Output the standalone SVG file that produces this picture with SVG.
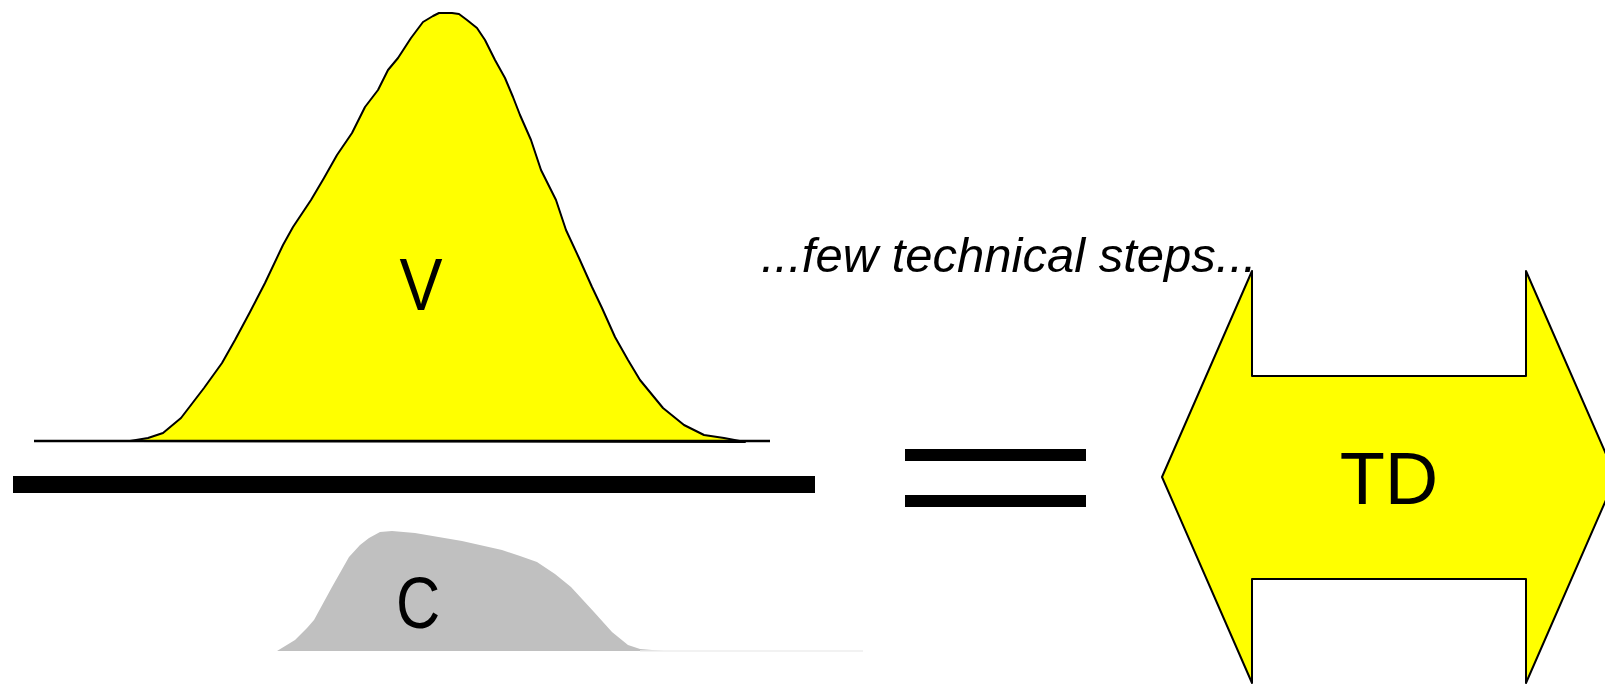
<svg xmlns="http://www.w3.org/2000/svg" width="1605" height="685" viewBox="0 0 1605 685">
<style>
.lbl{font-family:"Liberation Sans",Arial,sans-serif;fill:#000}
.shape{stroke:#000;stroke-width:2;stroke-linejoin:round}
</style>
<rect width="1605" height="685" fill="#fff"/>
<g id="V-distribution">
<path class="shape" fill="#ffff00" d="M130,441 L148,438 L163,433 L181,418 L204,388 L222,363 L235,340 L250,312 L265,283 L283,245 L293,227 L311,200 L324,178 L337,155 L352,133 L365,107 L378,90 L388,70 L398,58 L411,38 L423,22 L433,16 L439,13 L452,13 L459,14 L467,20 L477,28 L485,40 L495,60 L505,78 L513,97 L520,115 L531,140 L541,170 L556,200 L566,230 L579,258 L592,287 L602,308 L615,337 L628,360 L640,380 L663,408 L684,425 L704,435 L724,438 L745,442 Z"/>
<line x1="34" y1="441" x2="770" y2="441" stroke="#000" stroke-width="2.5"/>
<text class="lbl" transform="translate(421,310) scale(0.86,1)" font-size="75" text-anchor="middle">V</text>
</g>
<g id="fraction-bar">
<rect x="13" y="476" width="802" height="17" fill="#000"/>
</g>
<g id="C-distribution">
<path fill="#c0c0c0" d="M277,651 L295,640 L307,628 L314,620 L332,587 L349,557 L360,545 L369,538 L380,532 L392,531 L415,533 L462,541 L502,550 L520,556 L537,562 L555,574 L571,587 L594,612 L612,632 L628,645 L640,649 L664,651 Z"/>
<line x1="640" y1="651" x2="863" y2="651" stroke="#eeeeee" stroke-width="1.5"/>
<text class="lbl" transform="translate(418,628) scale(0.85,1)" font-size="72" text-anchor="middle">C</text>
</g>
<g id="equals">
<rect x="905" y="449" width="181" height="12" fill="#000"/>
<rect x="905" y="495" width="181" height="12" fill="#000"/>
</g>
<g id="TD-arrow">
<polygon class="shape" fill="#ffff00" points="1162,477 1252,271 1252,376 1526,376 1526,271 1616,477 1526,683 1526,579 1252,579 1252,683"/>
<text class="lbl" x="1389" y="504" font-size="74" text-anchor="middle">TD</text>
</g>
<g id="caption">
<text class="lbl" x="761" y="272" font-size="49" font-style="italic">...few technical steps...</text>
</g>
<g id="connectors"/>
</svg>
